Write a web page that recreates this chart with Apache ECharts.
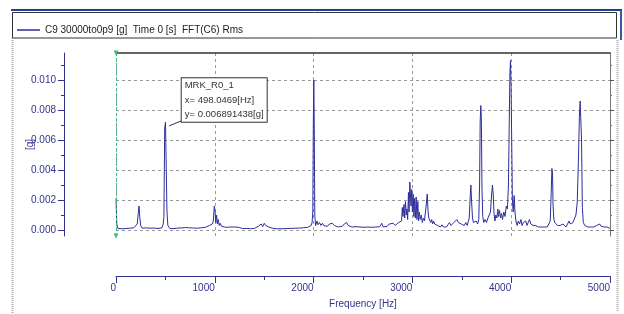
<!DOCTYPE html>
<html><head><meta charset="utf-8">
<script src="https://cdn.jsdelivr.net/npm/echarts@6/dist/echarts.min.js"></script>
<style>html,body{margin:0;padding:0;background:#fff}#c{width:624px;height:314px}</style>
</head><body><div id="c"></div>
<script>
const seriesName = 'C9 30000to0p9 [g]  Time 0 [s]  FFT(C6) Rms';
const yTicks = [0, 0.002, 0.004, 0.006, 0.008, 0.010];
const yMinorTicks = [0.001, 0.003, 0.005, 0.007, 0.009, 0.011];
const yTickLabels = ['0.000', '0.002', '0.004', '0.006', '0.008', '0.010'];
const xTickLabels = ['0', '1000', '2000', '3000', '4000', '5000'];
const marker = {name: 'MRK_R0_1', x: 498.0469, y: 0.006891438};
const cursorHz = 0;

const freqHz = [
0,8,20,40,60,80,100,120,140,160,180,200,215,225,233,240,250,265,285,305,325,345,365,385,405,425,445,465,478,485,493,501,509,516,525,545,565,585,605,625,645,665,685,705,725,745,765,785,805,825,845,865,885,905,925,945,960,975,985,995,1003,1010,1018,1026,1035,1045,1055,1068,1080,1095,1110,1125,1140,1160,1180,1200,1220,1240,1260,1280,1300,1320,1340,1360,1380,1400,1420,1440,1455,1470,1485,1500,1515,1530,1545,1560,1580,1600,1620,1640,1660,1680,1700,1720,1740,1760,1780,1800,1820,1840,1860,1880,1900,1920,1940,1960,1975,1985,1992,1997,2002,2007,2012,2020,2035,2045,2060,2075,2090,2105,2120,2140,2160,2175,2190,2210,2230,2250,2270,2290,2310,2335,2350,2370,2390,2410,2430,2450,2470,2490,2510,2530,2550,2570,2590,2610,2630,2650,2670,2690,2705,2725,2745,2765,2785,2805,2825,2845,2860,2875,2890,2898,2905,2915,2922,2930,2938,2945,2952,2960,2966,2974,2980,2986,2993,3000,3008,3015,3022,3030,3038,3046,3055,3062,3070,3080,3090,3100,3112,3122,3132,3142,3150,3158,3166,3175,3185,3195,3205,3215,3225,3240,3255,3270,3285,3300,3315,3330,3345,3360,3375,3390,3405,3420,3435,3450,3465,3480,3495,3510,3525,3540,3555,3565,3575,3585,3592,3600,3608,3618,3630,3645,3660,3672,3680,3686,3692,3698,3704,3712,3722,3735,3750,3765,3778,3790,3800,3810,3818,3826,3835,3845,3855,3865,3872,3882,3892,3902,3912,3925,3938,3950,3962,3972,3980,3987,3993,3999,4005,4012,4020,4030,4038,4048,4060,4072,4085,4098,4110,4122,4135,4148,4160,4172,4185,4198,4210,4222,4235,4248,4260,4275,4290,4305,4320,4335,4350,4365,4380,4395,4405,4412,4418,4424,4432,4442,4455,4468,4480,4495,4510,4525,4540,4555,4570,4585,4598,4612,4625,4640,4655,4668,4680,4690,4698,4705,4712,4720,4730,4745,4760,4775,4790,4805,4820,4835,4850,4865,4880,4895,4910,4925,4940,4955,4970,4985,5000
];
const ampG = [
0.0021,0.0004,0.0001,0.00012,0.00008,0.00015,0.0001,0.00018,0.00012,0.0002,0.00014,0.00022,0.0004,0.0011,0.0016,0.0009,0.0003,0.00012,0.0001,0.00014,0.00008,0.00012,0.0001,0.00013,0.00009,0.0001,0.00012,0.00015,0.0004,0.0009,0.0068,0.0072,0.0071,0.0012,0.0003,0.0001,0.00012,0.00009,0.0001,0.00013,0.0001,0.00014,0.00011,0.00016,0.00012,0.00015,0.00011,0.00013,0.00018,0.00012,0.0002,0.00015,0.0002,0.00018,0.00025,0.0003,0.0002,0.0004,0.0006,0.0016,0.0012,0.0005,0.0010,0.0004,0.0007,0.0003,0.00045,0.00025,0.0003,0.0002,0.00028,0.00018,0.00025,0.0002,0.00015,0.0002,0.00012,0.00018,0.00014,0.0001,0.00015,0.0001,0.00012,0.00009,0.00013,0.0001,0.00018,0.00025,0.0002,0.0004,0.00022,0.00045,0.0003,0.0004,0.0002,0.00015,0.00012,0.0001,0.00008,0.0001,0.00008,0.00011,0.00009,0.00012,0.0001,0.00014,0.00011,0.00015,0.00012,0.00016,0.00013,0.00018,0.00015,0.0002,0.00018,0.00025,0.0003,0.0005,0.0012,0.0070,0.0100,0.0068,0.0010,0.0003,0.0006,0.00035,0.0005,0.0003,0.00045,0.00028,0.0004,0.00025,0.0004,0.0003,0.00045,0.0003,0.00035,0.0002,0.0003,0.00025,0.0004,0.0005,0.0003,0.00035,0.0002,0.0003,0.00022,0.00032,0.0002,0.0003,0.00018,0.00028,0.0002,0.0003,0.00018,0.00025,0.0002,0.0003,0.00022,0.00045,0.0002,0.0003,0.00025,0.0004,0.0003,0.00045,0.0003,0.0004,0.0005,0.0004,0.0006,0.0015,0.0009,0.0017,0.0008,0.0019,0.0010,0.0014,0.0007,0.0025,0.0012,0.0032,0.0031,0.0016,0.0027,0.0012,0.0024,0.0009,0.0021,0.0008,0.0022,0.0007,0.0019,0.0006,0.0012,0.0007,0.0010,0.0005,0.0008,0.0006,0.0012,0.0018,0.0024,0.0013,0.0008,0.0009,0.0005,0.0007,0.0004,0.0006,0.0004,0.0005,0.0003,0.0004,0.0002,0.00035,0.0002,0.0003,0.0002,0.00035,0.0005,0.0003,0.0004,0.0005,0.0006,0.0007,0.0005,0.0006,0.0004,0.0005,0.0003,0.0005,0.0003,0.0004,0.0008,0.0022,0.0030,0.0018,0.0008,0.0005,0.0004,0.0006,0.0004,0.0007,0.0030,0.0072,0.0083,0.0075,0.0028,0.0009,0.0005,0.0007,0.0005,0.0008,0.0009,0.0012,0.0022,0.0030,0.0024,0.0011,0.0006,0.0010,0.0008,0.0014,0.0009,0.0013,0.0008,0.0011,0.0007,0.0012,0.0009,0.0016,0.0014,0.0030,0.0070,0.0105,0.0113,0.0095,0.0060,0.0020,0.0012,0.0023,0.0012,0.0006,0.0003,0.0006,0.0004,0.0007,0.0003,0.0005,0.0004,0.0006,0.0003,0.0005,0.0007,0.0004,0.0005,0.0003,0.0004,0.0003,0.0004,0.0002,0.0003,0.0002,0.0003,0.0002,0.0003,0.0002,0.0003,0.0006,0.0025,0.0041,0.0038,0.0016,0.0007,0.0005,0.0004,0.0003,0.0004,0.0003,0.0002,0.0004,0.0003,0.0002,0.0004,0.0006,0.0004,0.0003,0.0005,0.0006,0.0010,0.0018,0.0045,0.0075,0.0086,0.0087,0.0060,0.0015,0.0005,0.0003,0.0004,0.0002,0.0003,0.0002,0.0003,0.0002,0.00025,0.0003,0.0002,0.0004,0.00025,0.0003,0.0002,0.0003,0.0002,0.00025,0.0001
];

const NAVY = '#33338f';
const FONT = "'Liberation Sans Narrow', 'Liberation Sans', Arial, sans-serif";
const data = freqHz.map((f, i) => [f, ampG[i]]);

const chart = echarts.init(document.getElementById('c'), null, {renderer: 'canvas'});
chart.setOption({
  animation: false,
  backgroundColor: '#ffffff',
  textStyle: {fontFamily: FONT},
  legend: {
    left: 17, top: 25, padding: 0, itemWidth: 23, itemHeight: 1.5, itemGap: 5, icon: 'rect',
    textStyle: {fontSize: 10, color: '#222', fontFamily: FONT},
    data: [seriesName]
  },
  grid: {left: 116, top: 53, width: 494, height: 183, containLabel: false},
  xAxis: [
    {type: 'value', min: 0, max: 5000, interval: 1000, position: 'bottom',
     axisLine: {show: false, onZero: false}, axisTick: {show: false}, axisLabel: {show: false},
     splitLine: {show: true, lineStyle: {color: '#9a9a9a', type: [3, 3], width: 1}}},
    {type: 'value', min: 0, max: 5000, interval: 1000, position: 'bottom', offset: 40,
     axisLine: {show: true, onZero: false, lineStyle: {color: NAVY, width: 1}},
     axisTick: {show: true, inside: false, length: 7, lineStyle: {color: NAVY}},
     minorTick: {show: true, splitNumber: 2, length: 4, lineStyle: {color: NAVY}},
     axisLabel: {show: true, color: NAVY, fontSize: 10, align: 'right', margin: 7,
                 formatter: (v) => xTickLabels[Math.round(v / 1000)]},
     splitLine: {show: false},
     name: 'Frequency [Hz]', nameLocation: 'middle', nameGap: 23, nameMoveOverlap: false,
     nameTextStyle: {color: NAVY, fontSize: 10, fontFamily: FONT}},
    {type: 'value', min: 0, max: 5000, interval: 1000, position: 'top',
     axisLine: {show: true, onZero: false, lineStyle: {color: '#333', width: 1.5}},
     axisTick: {show: false}, axisLabel: {show: false}, splitLine: {show: false}}
  ],
  yAxis: [
    {type: 'value', min: -0.0004, max: 0.0118, position: 'left', offset: 52,
     axisLine: {show: true, onZero: false, lineStyle: {color: NAVY, width: 1}},
     axisTick: {show: true, inside: false, length: 6, customValues: yTicks, lineStyle: {color: NAVY}},
     axisLabel: {show: true, customValues: yTicks, color: NAVY, fontSize: 10, margin: 8,
                 formatter: (v) => yTickLabels[Math.round(v / 0.002)]},
     splitLine: {show: true, lineStyle: {color: '#9a9a9a', type: [3, 3], width: 1}},
     name: '[g]', nameLocation: 'middle', nameGap: 29, nameRotate: 90, nameMoveOverlap: false,
     nameTextStyle: {color: NAVY, fontSize: 10, fontFamily: FONT}},
    {type: 'value', min: -0.0004, max: 0.0118, position: 'left', offset: 52,
     axisLine: {show: false, onZero: false},
     axisTick: {show: true, inside: false, length: 3, customValues: yMinorTicks, lineStyle: {color: NAVY}},
     axisLabel: {show: false}, splitLine: {show: false}},
    {type: 'value', min: -0.0004, max: 0.0118, position: 'right',
     axisLine: {show: true, onZero: false, lineStyle: {color: '#777', width: 1}},
     axisTick: {show: true, inside: false, length: 4, customValues: yTicks, lineStyle: {color: '#555'}},
     axisLabel: {show: false}, splitLine: {show: false}},
    {type: 'value', min: -0.0004, max: 0.0118, position: 'right',
     axisLine: {show: false, onZero: false},
     axisTick: {show: true, inside: false, length: 2, customValues: yMinorTicks, lineStyle: {color: '#777'}},
     axisLabel: {show: false}, splitLine: {show: false}}
  ],
  series: [{
    name: seriesName, type: 'line', xAxisIndex: 0, yAxisIndex: 0,
    data: data, showSymbol: false, symbol: 'none', smooth: false,
    lineStyle: {color: '#2e2e9c', width: 1}, itemStyle: {color: '#2e2e9c'},
    markLine: {
      silent: true, animation: false,
      data: [
        [{xAxis: cursorHz, yAxis: 0.0118, symbol: 'triangle', symbolSize: 5, symbolRotate: 180},
         {xAxis: cursorHz, yAxis: -0.0004, symbol: 'triangle', symbolSize: 5}],
      ],
      lineStyle: {color: '#3fbf7f', type: [3, 2], width: 1},
      itemStyle: {color: '#3fbf7f'},
      label: {show: false}
    },
    markPoint: {
      silent: true, animation: false,
      data: [{coord: [marker.x, marker.y], symbol: 'circle', symbolSize: 1,
        itemStyle: {color: 'rgba(0,0,0,0)'},
        label: {show: true, position: [17, -48], align: 'left', verticalAlign: 'top',
          formatter: marker.name + '\nx= ' + marker.x.toFixed(4) + '[Hz]\ny= ' + marker.y + '[g]',
          color: '#333', fontSize: 9.5, lineHeight: 14.5, fontFamily: FONT,
          backgroundColor: '#fff', borderColor: '#333', borderWidth: 1, padding: [0, 3, 0, 3]}}]
    }
  }, {
    type: 'line', xAxisIndex: 0, yAxisIndex: 0, silent: true, symbol: 'none',
    lineStyle: {color: '#333', width: 1}, tooltip: {show: false},
    data: [[marker.x + 40, marker.y + 0.00005], [marker.x + 170, marker.y + 0.0004]]
  }],
  graphic: [
    {type: 'line', silent: true, shape: {x1: 11, y1: 10, x2: 622, y2: 10}, style: {stroke: '#233f8f', lineWidth: 2}},
    {type: 'line', silent: true, shape: {x1: 621, y1: 10, x2: 621, y2: 40}, style: {stroke: '#3a5aa8', lineWidth: 2}},
    {type: 'rect', silent: true, shape: {x: 12.5, y: 12.5, width: 604, height: 25.5}, style: {fill: 'none', stroke: '#333', lineWidth: 1}},
    {type: 'line', silent: true, shape: {x1: 12.5, y1: 38, x2: 12.5, y2: 314}, style: {stroke: '#aaa', lineWidth: 2, lineDash: [1, 1]}},
    {type: 'line', silent: true, shape: {x1: 617.5, y1: 40, x2: 617.5, y2: 312}, style: {stroke: '#aaa', lineWidth: 2, lineDash: [1, 1]}}
  ]
});
</script></body></html>
